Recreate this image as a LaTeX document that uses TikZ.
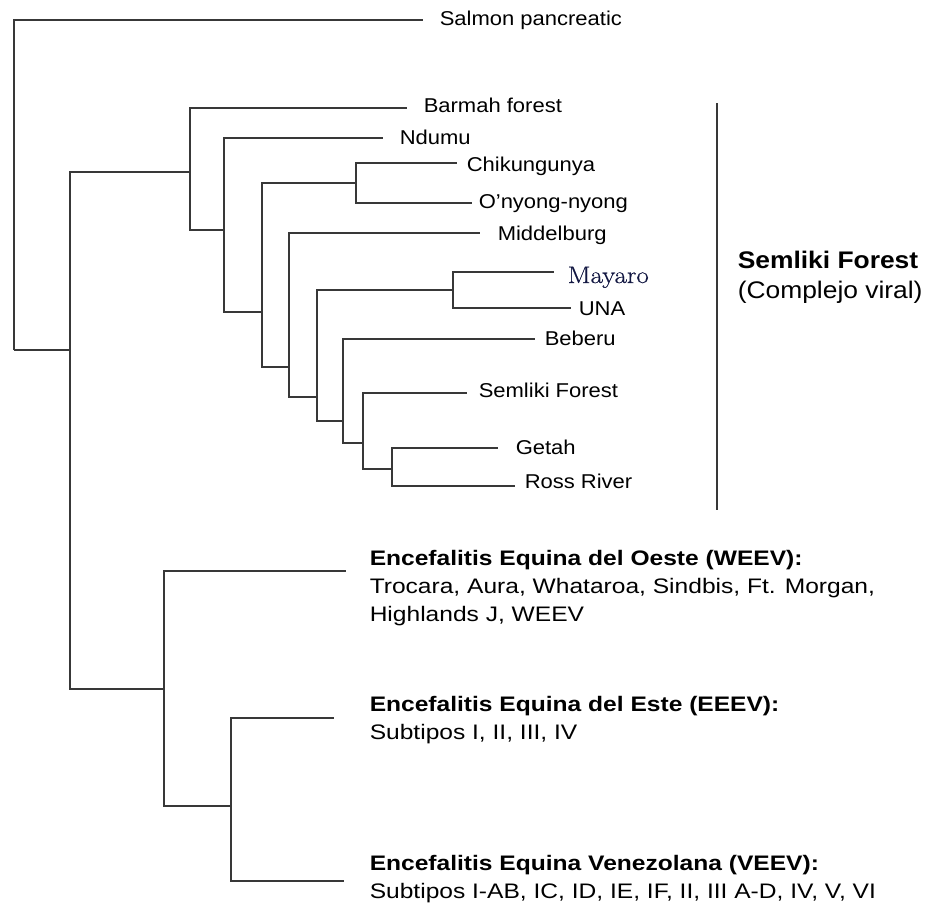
\documentclass[tikz,border=0pt]{standalone}
\usepackage{fontspec}
\setmainfont[FakeStretch=1.1]{Liberation Sans}
\newfontfamily\grpfont[FakeStretch=1.17]{Liberation Sans}
\newfontfamily\mayfont[FakeStretch=1.12,FakeBold=0.6]{Latin Modern Roman}
\definecolor{mayblue}{rgb}{0.07,0.09,0.26}
\definecolor{branch}{gray}{0.22}

\begin{document}
\begin{tikzpicture}[x=1pt,y=-1pt,line width=1.5pt,
	leaf/.style={anchor=west,inner sep=0pt,text height=14pt,text depth=4pt,
		font=\fontsize{20}{24}\selectfont},
	grp/.style={anchor=north west,inner sep=0pt,align=left,
		font=\grpfont\fontsize{21}{28}\selectfont}]
	\useasboundingbox (0,0) rectangle (925,907);
	% branch points
	\coordinate (r0) at (14,350);
	\coordinate (r1) at (70,350);
	\coordinate (a) at (190,172);
	\coordinate (b) at (224,230);
	\coordinate (c) at (262,312);
	\coordinate (cg) at (356,183);
	\coordinate (d) at (289,367);
	\coordinate (f) at (317,397);
	\coordinate (mg) at (453,290);
	\coordinate (g) at (343,421);
	\coordinate (h) at (363,443);
	\coordinate (i) at (392,469);
	\coordinate (e1) at (164,689);
	\coordinate (e2) at (231,806);
	% ends of the leaf branches
	\coordinate (salmonE) at (423,20);
	\coordinate (barmahE) at (407,108);
	\coordinate (ndumuE) at (383,138);
	\coordinate (chikE) at (457,163);
	\coordinate (onyongE) at (472,203);
	\coordinate (middelE) at (480,233);
	\coordinate (mayaroE) at (554,272);
	\coordinate (unaE) at (571,308);
	\coordinate (beberuE) at (535,339);
	\coordinate (semlikiE) at (467,393);
	\coordinate (getahE) at (498,448);
	\coordinate (rossE) at (515,486);
	\coordinate (weevE) at (346,571);
	\coordinate (eeevE) at (334,718);
	\coordinate (veevE) at (344,881);
	% leaves
	\node[leaf] (salmon) at (439,21) {Salmon pancreatic};
	\node[leaf] (barmah) at (423,107) {Barmah forest};
	\node[leaf] (ndumu) at (399,139) {Ndumu};
	\node[leaf] (chik) at (466,166) {Chikungunya};
	\node[leaf] (onyong) at (478,203) {O'nyong-nyong};
	\node[leaf] (middel) at (497,235) {Middelburg};
	\node[leaf,font=\mayfont\fontsize{24}{26}\selectfont,text=mayblue] (mayaro) at (567,278) {Mayaro};
	\node[leaf] (una) at (578,310) {UNA};
	\node[leaf] (beberu) at (544,340) {Beberu};
	\node[leaf] (semliki) at (478,392) {Semliki Forest};
	\node[leaf] (getah) at (515,449) {Getah};
	\node[leaf] (ross) at (524,483) {Ross River};
	\node[grp] (weev) at (369,550) {\textbf{Encefalitis Equina del Oeste (WEEV):}\\
		Trocara, Aura, Whataroa, Sindbis, Ft. Morgan,\\Highlands J, WEEV};
	\node[grp] (eeev) at (369,696) {\textbf{Encefalitis Equina del Este (EEEV):}\\
		Subtipos I, II, III, IV};
	\node[grp] (veev) at (369,855) {\textbf{Encefalitis Equina Venezolana (VEEV):}\\
		Subtipos I-AB, IC, ID, IE, IF, II, III A-D, IV, V, VI};
	% complex bracket
	\coordinate (barT) at (717,103);
	\coordinate (barB) at (717,510);
	\draw[branch] (barT) -- (barB);
	\node[anchor=north west,inner sep=0pt,align=left,
		font=\fontsize{24}{30}\selectfont] (complex) at (737,250)
		{\textbf{Semliki Forest}\\(Complejo viral)};
	% tree
	\draw[branch] (r0) |- (salmonE) (r0) -- (r1);
	\draw[branch] (r1) |- (a) (r1) |- (e1);
	\draw[branch] (a) |- (barmahE) (a) |- (b);
	\draw[branch] (b) |- (ndumuE) (b) |- (c);
	\draw[branch] (c) |- (cg) (c) |- (d);
	\draw[branch] (cg) |- (chikE) (cg) |- (onyongE);
	\draw[branch] (d) |- (middelE) (d) |- (f);
	\draw[branch] (f) |- (mg) (f) |- (g);
	\draw[branch] (mg) |- (mayaroE) (mg) |- (unaE);
	\draw[branch] (g) |- (beberuE) (g) |- (h);
	\draw[branch] (h) |- (semlikiE) (h) |- (i);
	\draw[branch] (i) |- (getahE) (i) |- (rossE);
	\draw[branch] (e1) |- (weevE) (e1) |- (e2);
	\draw[branch] (e2) |- (eeevE) (e2) |- (veevE);
\end{tikzpicture}
\end{document}
